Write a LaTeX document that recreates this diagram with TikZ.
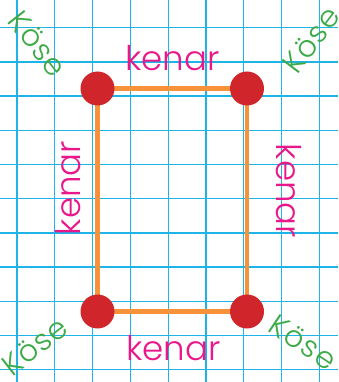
\documentclass[tikz,border=0pt]{standalone}
\usepackage{fontspec}
\usetikzlibrary{backgrounds}
\IfFontExistsTF{Poppins Light}{\setmainfont{Poppins Light}}{\setmainfont{Poppins}}
\definecolor{gridblue}{HTML}{1EB4E8}
\definecolor{edgeorange}{HTML}{F7923A}
\definecolor{dotred}{HTML}{D0252B}
\definecolor{kpink}{HTML}{E8178A}
\definecolor{kgreen}{HTML}{3DAA48}
\tikzset{
  gridline/.style={draw=gridblue, line width=1.3pt},
  edgeline/.style={draw=edgeorange, line width=4.5pt},
  corner/.style={circle, fill=dotred, minimum size=34pt, inner sep=0pt},
  kenarlbl/.style={text=kpink, font=\fontsize{34}{34}\selectfont, inner sep=0pt, anchor=base},
  koselbl/.style={text=kgreen, font=\fontsize{30}{30}\selectfont\addfontfeature{LetterSpace=4}, inner sep=0pt},
}
\begin{document}
\begin{tikzpicture}[x=1pt,y=-1pt]
\useasboundingbox (0,0) rectangle (338,382);
\begin{scope}[on background layer]
\fill[white] (0,0) rectangle (338,382);
\foreach \i in {0,...,8} {
  \draw[gridline] ({17+37.8*\i},0) -- ({17+37.8*\i},382);
}
\foreach \j in {0,...,10} {
  \draw[gridline] (0,{27.7+34.2*\j}) -- (338,{27.7+34.2*\j});
}
\end{scope}
\node[corner] (tl) at (97.5,88.5) {};
\node[corner] (tr) at (247,88.5) {};
\node[corner] (bl) at (97.5,311.5) {};
\node[corner] (br) at (247,311.5) {};
\begin{scope}[on background layer]
\draw[edgeline, line join=miter] (tl.center) -- (tr.center) -- (br.center) -- (bl.center) -- cycle;
\end{scope}
\node[kenarlbl] (ktop) at (172.5,70.7) {kenar};
\node[kenarlbl] (kbot) at (173.5,360) {kenar};
\node[kenarlbl, rotate=90] (kleft) at (80.7,188) {kenar};
\node[kenarlbl, rotate=-90] (kright) at (276,191) {kenar};
\node[koselbl, rotate=-52] (ktl) at (38,44) {Köse};
\node[koselbl, rotate=53] (ktr) at (311,40) {Köse};
\node[koselbl, rotate=38] (kbl) at (35,346) {Köse};
\node[koselbl, rotate=-34] (kbr) at (303,342) {Köse};
\end{tikzpicture}
\end{document}
